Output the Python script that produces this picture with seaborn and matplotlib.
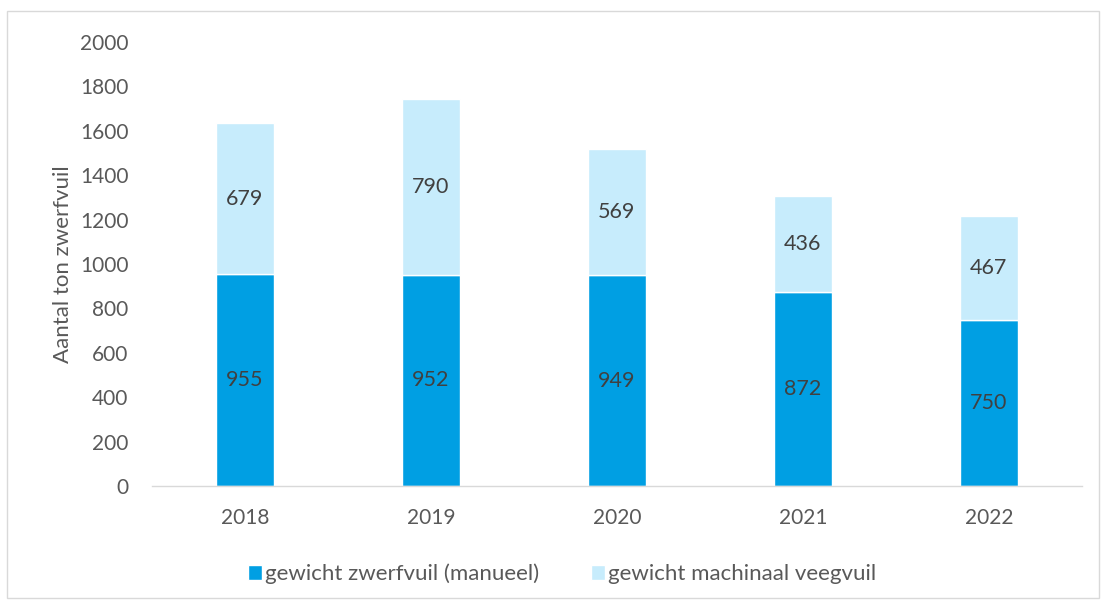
import matplotlib
matplotlib.use("Agg")
import matplotlib.pyplot as plt
import seaborn as sns
import pandas as pd
from matplotlib.patches import Rectangle

years = ["2018", "2019", "2020", "2021", "2022"]
manueel = [955, 952, 949, 872, 750]
machinaal = [679, 790, 569, 436, 467]
yticks = [0, 200, 400, 600, 800, 1000, 1200, 1400, 1600, 1800, 2000]

sns.set_theme(style="white")
plt.rcParams['font.family'] = ['Lato', 'DejaVu Sans']

text_col = "#595959"
dark = "#009FE3"
light = "#C7ECFC"

df = pd.DataFrame({"jaar": years, "manueel": manueel, "machinaal": machinaal})

fig = plt.figure(figsize=(11.05, 6.0), dpi=100)
ax = fig.add_axes([0.1376, 0.19, 0.8414, 0.74])

sns.barplot(data=df, x="jaar", y="manueel", color=dark, width=0.31, ax=ax,
            saturation=1, label="gewicht zwerfvuil (manueel)")
sns.barplot(data=df, x="jaar", y="machinaal", color=light, width=0.31, ax=ax,
            saturation=1, bottom=df["manueel"], label="gewicht machinaal veegvuil")

for c in ax.containers:
    ax.bar_label(c, label_type="center", color="#404040", fontsize=15.5)

ax.set_ylim(0, 2000)
ax.set_yticks(yticks)
ax.set_xlim(-0.5, 4.5)
ax.set_xlabel("")
ax.set_ylabel("Aantal ton zwerfvuil", fontsize=16, color=text_col, labelpad=5)
ax.tick_params(axis="both", labelsize=15, colors=text_col, length=0)
ax.tick_params(axis="y", pad=17)
ax.tick_params(axis="x", pad=16)
for s in ["top", "right", "left"]:
    ax.spines[s].set_visible(False)
ax.spines["bottom"].set_color("#D9D9D9")
ax.spines["bottom"].set_linewidth(1)
ax.grid(False)

leg = ax.legend(loc="upper center", bbox_to_anchor=(0.441, -0.13), ncol=2, frameon=False,
                fontsize=16, handlelength=0.65, handleheight=0.65, handletextpad=0.15,
                columnspacing=2.3)
for t in leg.get_texts():
    t.set_color(text_col)

fig.patches.append(Rectangle((7/1105, 2/600), 1092/1105, 587/600, transform=fig.transFigure,
                             fill=False, edgecolor="#D9D9D9", linewidth=1))

fig.savefig("out.png", dpi=100)
